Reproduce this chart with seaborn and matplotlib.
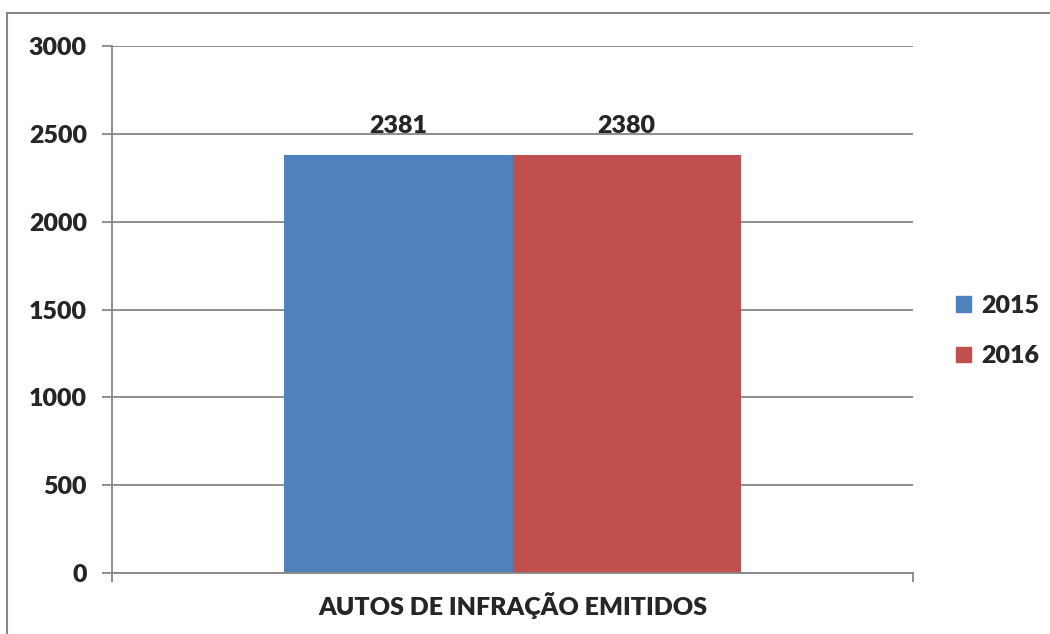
import matplotlib
matplotlib.use('Agg')
import matplotlib.pyplot as plt
import matplotlib.patches as mpatches
import seaborn as sns
import pandas as pd

# Data
category = ['AUTOS DE INFRAÇÃO EMITIDOS']
years = ['2015', '2016']
values = [2381, 2380]
colors = ['#4F81BD', '#C0504D']

df = pd.DataFrame({'cat': category * len(years), 'ano': years, 'valor': values})

sns.set_style('white')
plt.rcParams['font.family'] = ['Lato', 'DejaVu Sans']
plt.rcParams['font.weight'] = 'heavy'

fig = plt.figure(figsize=(10.5, 6.34), dpi=100)
ax = fig.add_axes([0.1067, 0.0962, 0.7628, 0.8312])

sns.barplot(data=df, x='cat', y='valor', hue='ano', palette=colors,
            width=0.57, saturation=1, legend=False, linewidth=0,
            edgecolor='none', ax=ax)

ax.set_xlim(-0.5, 0.5)
ax.set_ylim(0, 3000)
ax.set_yticks(range(0, 3001, 500))
ax.yaxis.grid(True, color='#868686', linewidth=1.3)
ax.set_axisbelow(True)

for s in ['top', 'right']:
    ax.spines[s].set_visible(False)
for s in ['left', 'bottom']:
    ax.spines[s].set_color('#868686')
    ax.spines[s].set_linewidth(1.3)

ax.tick_params(axis='y', left=True, length=7.2, width=1.3, color='#868686',
               labelsize=18, pad=11)
ax.set_xticks([-0.5, 0.5])
ax.set_xticklabels(['', ''])
ax.tick_params(axis='x', bottom=True, length=6.5, width=1.3, color='#868686',
               direction='out')
for lab in ax.get_yticklabels():
    lab.set_fontweight('heavy')

ax.set_xlabel(category[0], fontsize=18, fontweight='heavy', labelpad=4)
ax.set_ylabel('')

# value labels above the bars
for bar, v in zip(ax.patches, values):
    ax.text(bar.get_x() + bar.get_width() / 2, v + 100, str(v),
            ha='center', va='bottom', fontsize=18, fontweight='heavy')

handles = [mpatches.Patch(color=c, label=y) for c, y in zip(colors, years)]
fig.legend(handles=handles, loc='center left', bbox_to_anchor=(0.889, 0.478),
           frameon=False, prop={'size': 18, 'weight': 'heavy'},
           handlelength=0.6, handleheight=0.6, handletextpad=0.4,
           labelspacing=1.15)

# outer chart border
fig.add_artist(mpatches.Rectangle((7 / 1050, -0.05), 1.1, 1 - 13 / 634 + 0.05,
                                  transform=fig.transFigure, fill=False,
                                  edgecolor='#868686', linewidth=1.5))

fig.savefig('out.png', dpi=100)
